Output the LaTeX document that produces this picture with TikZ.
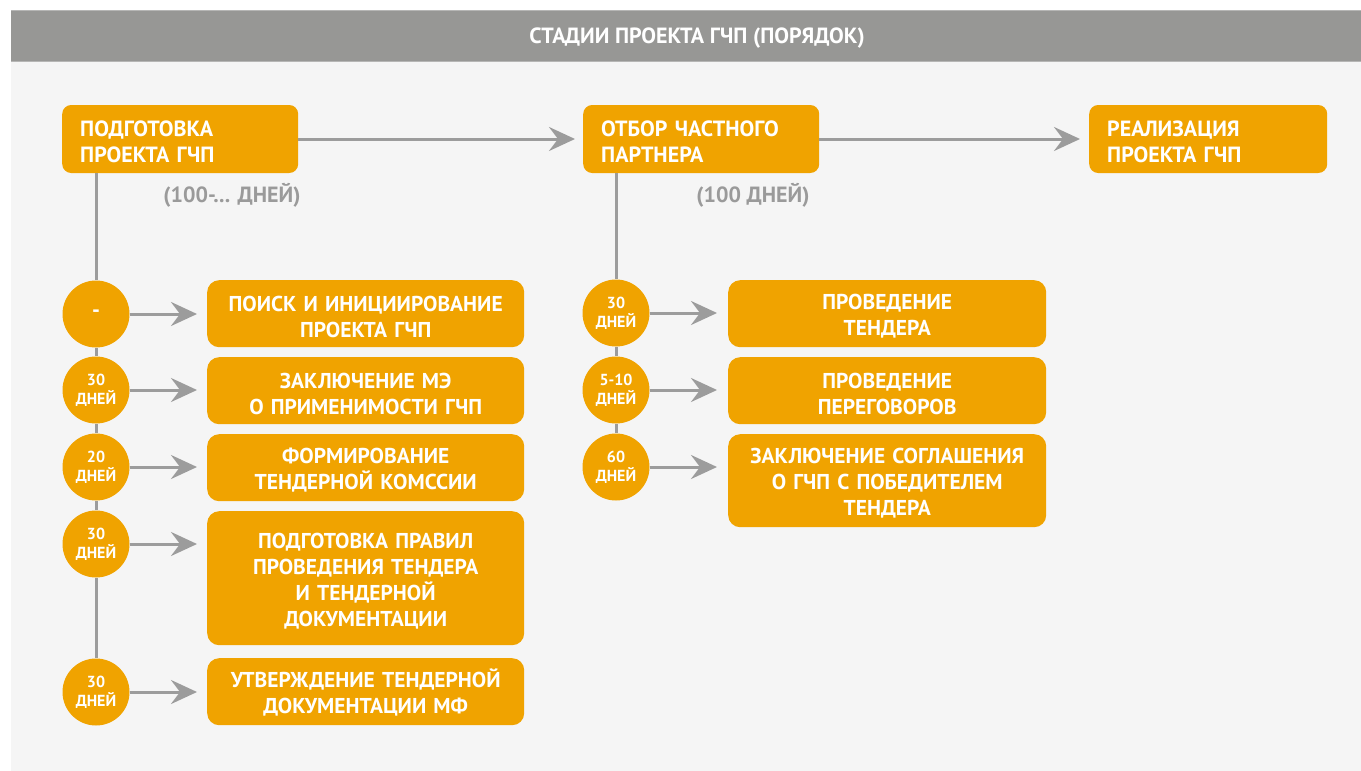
\documentclass[tikz,border=0pt]{standalone}
\usepackage{fontspec}
\setmainfont{PT Sans}
\usetikzlibrary{arrows.meta}
\definecolor{stageorange}{HTML}{F0A300}
\definecolor{headgray}{HTML}{979795}
\definecolor{panelgray}{HTML}{F5F5F5}
\definecolor{linkgray}{HTML}{9C9C9C}
\definecolor{notegray}{HTML}{9A9A9A}
\tikzset{
  stagebox/.style={fill=stageorange, rounded corners=9pt, text=white,
    font=\bfseries\fontsize{22}{26}\selectfont, align=left, anchor=west,
    inner xsep=18pt, inner ysep=0pt, text width=200pt, minimum height=68pt,
    execute at begin node={\rule{0pt}{21pt}}},
  taskbox/.style={fill=stageorange, rounded corners=12pt, text=white,
    font=\bfseries\fontsize{21.5}{26}\selectfont, align=center,
    inner sep=0pt, text width=317pt, anchor=north west,
    execute at begin node={\rule{0pt}{21pt}}},
  daydot/.style={circle, fill=stageorange, text=white, minimum size=67pt,
    inner sep=0pt, align=center, font=\bfseries\fontsize{16}{19}\selectfont},
  note/.style={text=notegray, font=\bfseries\fontsize{22}{24}\selectfont},
  flow/.style={draw=linkgray, line width=3pt,
    -{Stealth[length=26pt, width=24pt, inset=9pt]}},
  spine/.style={draw=linkgray, line width=3pt},
}
\begin{document}
\begin{tikzpicture}[x=1pt, y=-1pt]
  \useasboundingbox (0,0) rectangle (1361,771);
  % page background, panel and title bar
  \fill[white] (0,0) rectangle (1361,771);
  \fill[panelgray] (11,61) rectangle (1361,771);
  \fill[headgray!70] (11,10) rectangle (1361,62);
  \fill[headgray] (11,11) rectangle (1361,61);
  \node[text=white, font=\bfseries\fontsize{22}{24}\selectfont] (title) at (697,38)
    {СТАДИИ ПРОЕКТА ГЧП (ПОРЯДОК)};

  % main stages
  \node[stagebox] (prep) at (62,139) {ПОДГОТОВКА\\ПРОЕКТА ГЧП};
  \node[stagebox] (select) at (583,139) {ОТБОР ЧАСТНОГО\\ПАРТНЕРА};
  \node[stagebox, text width=202pt] (impl) at (1089,139) {РЕАЛИЗАЦИЯ\\ПРОЕКТА ГЧП};
  \draw[flow] (prep.east) -- ([xshift=-8pt]select.west);
  \draw[flow] (select.east) -- ([xshift=-9pt]impl.west);
  \node[note] (prepdays) at (232,195) {(100-... ДНЕЙ)};
  \node[note] (seldays) at (753,195) {(100 ДНЕЙ)};

  % preparation steps
  \node[daydot, font=\bfseries\fontsize{22}{24}\selectfont] (p1) at (96,314) {-};
  \node[daydot] (p2) at (96,390) {30\\ДНЕЙ};
  \node[daydot] (p3) at (96,467) {20\\ДНЕЙ};
  \node[daydot] (p4) at (96,544) {30\\ДНЕЙ};
  \node[daydot] (p5) at (96,692) {30\\ДНЕЙ};

  \node[taskbox, minimum height=67pt] (t1) at (207,280) {ПОИСК И ИНИЦИИРОВАНИЕ\\ПРОЕКТА ГЧП};
  \node[taskbox, minimum height=67pt] (t2) at (207,357) {ЗАКЛЮЧЕНИЕ МЭ\\О ПРИМЕНИМОСТИ ГЧП};
  \node[taskbox, minimum height=67pt] (t3) at (207,434) {ФОРМИРОВАНИЕ\\ТЕНДЕРНОЙ КОМССИИ};
  \node[taskbox, minimum height=134pt] (t4) at (207,511) {ПОДГОТОВКА ПРАВИЛ\\ПРОВЕДЕНИЯ ТЕНДЕРА\\И ТЕНДЕРНОЙ\\ДОКУМЕНТАЦИИ};
  \node[taskbox, minimum height=67pt] (t5) at (207,658) {УТВЕРЖДЕНИЕ ТЕНДЕРНОЙ\\ДОКУМЕНТАЦИИ МФ};

  \draw[spine] (p1 |- prep.south) -- (p1.north);
  \draw[spine] (p1.south) -- (p2.north);
  \draw[spine] (p2.south) -- (p3.north);
  \draw[spine] (p3.south) -- (p4.north);
  \draw[spine] (p4.south) -- (p5.north);
  \foreach \i in {1,...,5}{
    \draw[flow] (p\i.east) -- ([xshift=-10pt]p\i.east -| t\i.west);
  }

  % partner selection steps
  \node[daydot] (s1) at (616,313) {30\\ДНЕЙ};
  \node[daydot] (s2) at (616,390) {5-10\\ДНЕЙ};
  \node[daydot] (s3) at (616,467) {60\\ДНЕЙ};

  \node[taskbox, text width=318pt, minimum height=67pt] (u1) at (728,280) {ПРОВЕДЕНИЕ\\ТЕНДЕРА};
  \node[taskbox, text width=318pt, minimum height=67pt] (u2) at (728,357) {ПРОВЕДЕНИЕ\\ПЕРЕГОВОРОВ};
  \node[taskbox, text width=318pt, minimum height=93pt] (u3) at (728,434) {ЗАКЛЮЧЕНИЕ СОГЛАШЕНИЯ\\О ГЧП С ПОБЕДИТЕЛЕМ\\ТЕНДЕРА};

  \draw[spine] (s1 |- select.south) -- (s1.north);
  \draw[spine] (s1.south) -- (s2.north);
  \draw[spine] (s2.south) -- (s3.north);
  \foreach \i in {1,2,3}{
    \draw[flow] (s\i.east) -- ([xshift=-11pt]s\i.east -| u\i.west);
  }
\end{tikzpicture}
\end{document}
